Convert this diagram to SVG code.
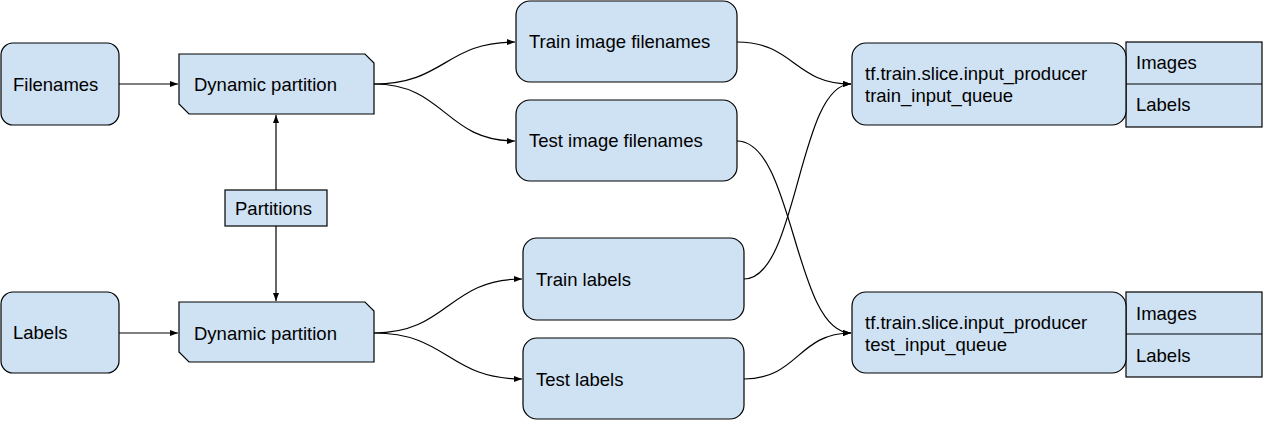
<svg xmlns="http://www.w3.org/2000/svg" width="1274" height="430" viewBox="0 0 1274 430">
<defs>
<style>
.n{fill:#cfe2f3;stroke:#000;stroke-width:1.2}
.t{font-family:"Liberation Sans",Arial,sans-serif;font-size:18.5px;fill:#000}
.c{fill:none;stroke:#000;stroke-width:1.2}
</style>
<marker id="ah" viewBox="0 0 8 6" refX="8" refY="3" markerWidth="8" markerHeight="6" markerUnits="userSpaceOnUse" orient="auto">
<path d="M0,0 L8,3 L0,6 z" fill="#000"/>
</marker>
</defs>
<rect width="1274" height="430" fill="#fff"/>
<g id="connectors">
<path class="c" d="M119,84 H178" marker-end="url(#ah)"/>
<path class="c" d="M119,333 H178" marker-end="url(#ah)"/>
<path class="c" d="M276,190 V115" marker-end="url(#ah)"/>
<path class="c" d="M276,226 V301" marker-end="url(#ah)"/>
<path class="c" d="M374,84 C445,84 445,42 515,42" marker-end="url(#ah)"/>
<path class="c" d="M374,84 C445,84 445,141 515,141" marker-end="url(#ah)"/>
<path class="c" d="M374,333 C448,333 448,279 522,279" marker-end="url(#ah)"/>
<path class="c" d="M374,333 C448,333 448,379 522,379" marker-end="url(#ah)"/>
<path class="c" d="M737,42 C794,42 794,84 851,84" marker-end="url(#ah)"/>
<path class="c" d="M744,279 C798,279 798,84 851,84" marker-end="url(#ah)"/>
<path class="c" d="M737,141 C794,141 794,333 851,333" marker-end="url(#ah)"/>
<path class="c" d="M744,379 C798,379 798,333 851,333" marker-end="url(#ah)"/>
</g>
<g id="filenames">
<rect class="n" x="1" y="43" width="118" height="82" rx="12"/>
<text class="t" x="13" y="91">Filenames</text>
</g>
<g id="labels">
<rect class="n" x="1" y="292" width="118" height="81" rx="12"/>
<text class="t" x="13" y="339">Labels</text>
</g>
<g id="dp1">
<path class="n" d="M179,54 H365 L374,63 V114 H189 L179,104 Z"/>
<text class="t" x="194" y="91">Dynamic partition</text>
</g>
<g id="dp2">
<path class="n" d="M179,302 H365 L374,311 V362 H189 L179,352 Z"/>
<text class="t" x="194" y="340">Dynamic partition</text>
</g>
<g id="partitions">
<rect class="n" x="225" y="190" width="102" height="36"/>
<text class="t" x="235" y="215">Partitions</text>
</g>
<g id="train-img">
<rect class="n" x="516" y="1" width="221" height="81" rx="14"/>
<text class="t" x="529" y="48">Train image filenames</text>
</g>
<g id="test-img">
<rect class="n" x="516" y="100" width="221" height="81" rx="14"/>
<text class="t" x="529" y="147">Test image filenames</text>
</g>
<g id="train-labels">
<rect class="n" x="523" y="238" width="221" height="82" rx="14"/>
<text class="t" x="536" y="286">Train labels</text>
</g>
<g id="test-labels">
<rect class="n" x="523" y="338" width="221" height="81" rx="14"/>
<text class="t" x="536" y="386">Test labels</text>
</g>
<g id="train-queue">
<rect class="n" x="1126" y="42" width="136" height="85"/>
<line class="c" x1="1126" y1="84" x2="1262" y2="84"/>
<text class="t" x="1136" y="69">Images</text>
<text class="t" x="1136" y="111">Labels</text>
<rect class="n" x="852" y="43" width="274" height="82" rx="14"/>
<text class="t" x="865" y="80">tf.train.slice.input_producer</text>
<text class="t" x="865" y="102">train_input_queue</text>
</g>
<g id="test-queue">
<rect class="n" x="1126" y="292" width="136" height="85"/>
<line class="c" x1="1126" y1="334" x2="1262" y2="334"/>
<text class="t" x="1136" y="320">Images</text>
<text class="t" x="1136" y="362">Labels</text>
<rect class="n" x="852" y="292" width="274" height="81" rx="14"/>
<text class="t" x="865" y="329">tf.train.slice.input_producer</text>
<text class="t" x="865" y="351">test_input_queue</text>
</g>
</svg>
